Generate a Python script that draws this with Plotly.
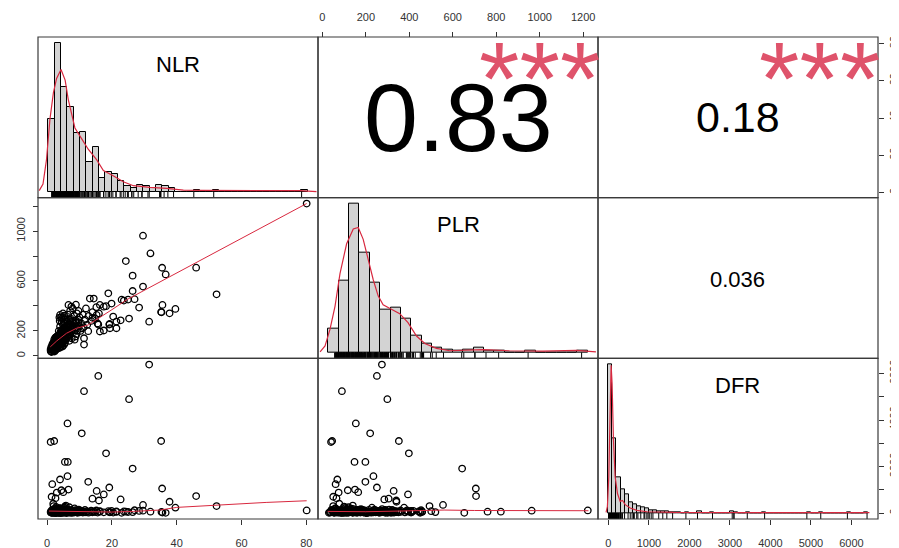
import plotly.graph_objects as go

# ---------------- data ----------------
# outlying patients (NLR, PLR, DFR)
nlr_o = [31.5, 15.8, 11.4, 25.3, 6.3, 10.7, 1.1, 2.2, 35.2, 18.2,
         5.5, 6.4, 26.4, 6.3, 4.0, 12.7, 1.6, 35.5, 19.2, 46.0,
         37.8, 22.7, 52.3, 80.1, 29.6, 31.9, 24.3, 36.6, 29.6, 39.6,
         26.4, 18.9, 28.4, 35.3, 35.6, 15.3, 17.5, 4.4, 6.6, 5.0,
         1.4, 2.6, 3.0, 14.0, 16.0, 27.0]
plr_o = [274, 251, 90, 299, 154, 220, 40, 45, 352, 398,
         148, 198, 643, 235, 69, 198, 61, 706, 251, 707,
         341, 285, 493, 1221, 963, 821, 760, 653, 555, 376,
         520, 501, 387, 349, 408, 328, 394, 117, 150, 165,
         50, 65, 75, 305, 340, 454]
dfr_o = [6386, 5900, 5243, 4900, 3857, 3429, 3057, 3100, 3100, 2571,
         2200, 2200, 1914, 1586, 1443, 1343, 1243, 1057, 1100, 729,
         486, 586, 300, 114, 100, 60, 60, 10, 350, 230,
         40, 80, 90, 50, 20, 950, 800, 980, 1010, 900,
         700, 640, 880, 620, 540, 120]

# dense cluster, low NLR
nlr_a = [1.2, 1.5, 1.8, 2.0, 2.1, 2.3, 2.4, 2.5, 2.6, 2.7,
         2.8, 2.9, 3.0, 1.3, 1.6, 1.9, 2.2, 2.5, 2.8, 3.0,
         1.4, 1.7, 2.0, 2.3, 2.6, 2.9, 3.1, 3.3, 3.4, 3.6,
         1.1, 1.9, 2.4, 2.7, 3.2]
plr_a = [35, 48, 55, 62, 40, 72, 88, 58, 95, 110,
         66, 80, 120, 70, 90, 105, 130, 145, 100, 92,
         30, 42, 50, 35, 45, 52, 60, 75, 98, 115,
         52, 78, 115, 138, 160]
dfr_a = [20, 60, 10, 120, 35, 80, 15, 200, 45, 5,
         150, 90, 30, 100, 25, 70, 160, 40, 260, 60,
         8, 140, 300, 50, 110, 20, 180, 65, 12, 95,
         40, 400, 85, 30, 55]

nlr_b = [3.5, 3.7, 3.8, 3.9, 4.0, 4.1, 4.2, 4.3, 4.4, 4.5,
         4.6, 4.7, 4.8, 4.9, 5.0, 5.1, 5.2, 5.3, 5.4, 5.5,
         5.6, 5.7, 5.8, 5.9, 6.0, 3.6, 4.0, 4.5, 5.0, 5.5,
         3.8, 4.2, 4.8, 5.2, 5.8, 4.4, 4.9, 5.3, 3.9, 4.6]
plr_b = [130, 150, 85, 175, 105, 140, 195, 120, 160, 95,
         210, 178, 135, 250, 155, 115, 190, 228, 145, 265,
         170, 125, 205, 290, 180, 200, 235, 270, 310, 100,
         62, 72, 80, 88, 140, 310, 340, 322, 280, 300]
dfr_b = [140, 25, 70, 45, 210, 10, 90, 35, 130, 60,
         15, 170, 50, 80, 25, 110, 40, 230, 70, 20,
         150, 90, 45, 10, 120, 60, 30, 100, 55, 280,
         200, 15, 65, 35, 320, 75, 40, 130, 95, 20]

nlr_c = [6.2, 6.4, 6.6, 6.8, 7.0, 7.2, 7.4, 7.6, 7.8, 8.0,
         8.2, 8.4, 8.6, 8.8, 9.0, 9.2, 9.4, 9.6, 9.8, 10.0,
         6.5, 7.1, 7.9, 8.5, 9.1, 6.9, 7.5, 8.9, 9.7, 6.1]
plr_c = [160, 230, 195, 260, 175, 300, 215, 140, 245, 280,
         190, 320, 225, 155, 265, 340, 205, 290, 240, 310,
         330, 360, 380, 130, 175, 120, 395, 410, 360, 275]
dfr_c = [60, 25, 110, 40, 85, 15, 140, 55, 30, 95,
         20, 70, 45, 120, 35, 80, 10, 60, 150, 25,
         90, 50, 30, 200, 100, 250, 65, 40, 110, 170]

nlr_d = [10.3, 10.6, 11.0, 11.3, 11.7, 12.0, 12.4, 12.8, 13.2, 13.6,
         14.0, 14.4, 14.8, 15.2, 15.6, 16.3, 16.3, 17.5, 19.3, 19.9,
         20.4, 21.4, 21.4, 19.4, 23.0, 25.0, 11.4, 4.8, 4.0, 3.8,
         6.6, 23.7]
plr_d = [200, 260, 330, 230, 290, 380, 250, 320, 459, 280,
         350, 459, 300, 390, 260, 408, 195, 203, 256, 419,
         315, 275, 221, 221, 450, 451, 141, 75, 328, 307,
         408, 443]
dfr_d = [40, 90, 20, 60, 130, 35, 75, 15, 50, 100,
         30, 70, 45, 110, 20, 80, 60, 30, 40, 90,
         20, 50, 70, 30, 10, 45, 35, 30, 60, 150,
         90, 70]

nlr_e = [1.5, 1.7, 1.9, 2.1, 2.3, 2.5, 2.7, 2.9, 3.1, 3.3,
         3.5, 3.7, 3.9, 4.1, 4.3, 4.5, 4.7, 4.9, 5.1, 5.3,
         5.5, 5.7, 5.9, 6.1, 6.3, 6.5, 6.7, 6.9, 7.1, 7.3,
         2.0, 2.4, 2.8, 3.2, 3.6, 4.0, 4.4, 4.8, 5.2, 5.6,
         6.0, 6.4, 6.8, 7.2, 7.6, 8.0, 8.4, 8.8, 9.2, 9.6]
plr_e = [65, 80, 95, 75, 110, 85, 125, 140, 100, 135,
         160, 110, 130, 175, 150, 190, 165, 205, 180, 140,
         215, 195, 240, 200, 170, 250, 225, 190, 270, 235,
         100, 60, 150, 85, 95, 120, 145, 115, 260, 230,
         210, 185, 290, 255, 200, 230, 260, 285, 230, 270]
dfr_e = [30, 80, 15, 50, 120, 5, 65, 25, 90, 40,
         10, 140, 55, 20, 75, 35, 100, 15, 60, 180,
         30, 45, 85, 10, 120, 50, 20, 70, 35, 95,
         160, 25, 45, 110, 70, 15, 50, 90, 30, 60,
         20, 140, 40, 75, 10, 55, 30, 100, 45, 65]

nlr = nlr_o + nlr_a + nlr_b + nlr_c + nlr_d + nlr_e
plr = plr_o + plr_a + plr_b + plr_c + plr_d + plr_e
dfr = dfr_o + dfr_a + dfr_b + dfr_c + dfr_d + dfr_e

# histogram counts (bins)
nlr_bin_start, nlr_bin_w = 0, 2
nlr_hist = [41, 84, 59, 48, 33, 34, 17, 25, 8, 11,
            10, 6, 3, 2, 4, 3, 2, 4, 3, 2,
            0, 0, 0, 1, 0, 0, 1, 0, 0, 0,
            0, 0, 0, 0, 0, 0, 0, 0, 0, 0,
            1]
plr_bin_start, plr_bin_w = 0, 50
plr_hist = [16, 48, 100, 67, 47, 29, 30, 23, 11, 6,
            3, 2, 1, 2, 3, 1, 1, 0, 0, 1,
            0, 0, 0, 0, 1]
dfr_bin_start, dfr_bin_w = 0, 100
dfr_hist = [160, 80, 38, 26, 20, 12, 9, 7, 6, 5,
            3, 3, 2, 2, 2, 1, 1, 1, 0, 1,
            0, 0, 2, 0, 0, 1, 0, 0, 0, 0,
            2, 1, 0, 0, 1, 0, 0, 0, 1, 0,
            0, 0, 0, 0, 0, 0, 0, 0, 0, 1,
            0, 0, 1, 0, 0, 0, 0, 0, 0, 1,
            0, 0, 0, 1]

# density curves (in count units)
nlr_dens_x = [-2.9, -1.7, -0.6, 0.5, 1.6, 2.6, 4.0, 5.3, 6.3, 7.4, 8.4, 10.5, 12.6,
              15.3, 17.4, 20.5, 23.7, 26.9, 32.1, 37.4, 42.7, 48.0, 53.2, 63.8, 79.5, 84.8]
nlr_dens_y = [0.6, 4.3, 18, 41, 56, 64, 69, 63, 52, 43, 36, 30, 24,
              18, 12, 9, 5.6, 3.4, 2.4, 1.9, 0.9, 0.75, 0.75, 0.4, 0.6, 0]
plr_dens_x = [-40, -16, 8, 32, 56, 88, 120, 144, 168, 192, 216, 240, 264,
              304, 344, 384, 425, 465, 521, 585, 681, 745, 873, 1034, 1194, 1290]
plr_dens_y = [0.4, 4.4, 15.6, 31, 53, 73, 83, 84, 76, 62, 49, 38, 32,
              29, 26, 20, 11, 6, 2.7, 1.1, 1.8, 1.8, 1.1, 0.9, 1.3, 0.4]
dfr_dens_x = [-57, -24, 10, 43, 68, 92, 125, 167, 225, 291, 349, 415, 539,
              704, 952, 1613, 2852, 4503, 6444]
dfr_dens_y = [0.7, 7, 39, 121, 159, 139, 79, 39, 21, 12.5, 13.6, 9, 5.4,
              2.9, 1.4, 0.7, 0.4, 0.4, 0.4]

# smoothers in scatter panels
sm_np_x = [1.0, 3.0, 6.0, 9.0, 12.7, 16.0, 20.0, 24.8, 35.0, 46.0, 60.0, 70.0, 80.1]
sm_np_y = [72, 120, 181, 220, 248, 300, 370, 453, 595, 747, 942, 1081, 1221]
sm_nd_x = [0.6, 6.1, 12.8, 19.9, 26.6, 34.8, 40.0, 47.1, 57.4, 67.6, 80.1]
sm_nd_y = [86, 71, 57, 43, 71, 129, 243, 300, 386, 457, 529]
sm_pd_x = [25, 200, 350, 460, 560, 700, 850, 1224]
sm_pd_y = [71, 57, 85, 110, 129, 110, 100, 100]

# correlation texts
cor_np, cor_nd, cor_pd = "0.83", "0.18", "0.036"
sig_np, sig_nd = "***", "***"
var_names = ["NLR", "PLR", "DFR"]

# tick values / labels
nlr_ticks = [0, 20, 40, 60, 80]
plr_ticks = [0, 200, 400, 600, 800, 1000, 1200]
plr_left_labels = ["0", "200", "", "600", "", "1000", ""]
dfr_ticks = [0, 1000, 2000, 3000, 4000, 5000, 6000]
dfr_right_labels = ["0", "", "2000", "", "4000", "", "6000"]

# ---------------- figure ----------------
FONT = "Liberation Sans, Arial, sans-serif"
RED = "#d8283f"
cols = [[0, 1/3], [1/3, 2/3], [2/3, 1]]
rows = [[2/3, 1], [1/3, 2/3], [0, 1/3]]

fig = go.Figure()

def scatter(x, y, xa, ya):
    fig.add_trace(go.Scatter(x=x, y=y, xaxis=xa, yaxis=ya, mode="markers",
                             marker=dict(symbol="circle-open", size=6.5, color="black",
                                         line=dict(width=1.3, color="black")),
                             hoverinfo="skip", showlegend=False))

def smooth(x, y, xa, ya):
    fig.add_trace(go.Scatter(x=x, y=y, xaxis=xa, yaxis=ya, mode="lines",
                             line=dict(color=RED, width=1), hoverinfo="skip", showlegend=False))

scatter(nlr, plr, "x", "y2"); smooth(sm_np_x, sm_np_y, "x", "y2")
scatter(nlr, dfr, "x", "y3"); smooth(sm_nd_x, sm_nd_y, "x", "y3")
scatter(plr, dfr, "x2", "y3"); smooth(sm_pd_x, sm_pd_y, "x2", "y3")

def hist(counts, start, w, vals, dx, dy, xa, ya, hi):
    centers = [start + w * (i + 0.5) for i in range(len(counts))]
    fig.add_trace(go.Bar(x=centers, y=counts, width=w, xaxis=xa, yaxis=ya,
                         marker=dict(color="#D3D3D3", line=dict(color="black", width=1)),
                         hoverinfo="skip", showlegend=False))
    fig.add_trace(go.Scatter(x=dx, y=dy, xaxis=xa, yaxis=ya, mode="lines",
                             line=dict(color=RED, width=1.2), hoverinfo="skip", showlegend=False))
    lo = -0.04 * hi
    rug_y = lo + 0.015 * (hi * 1.08)
    fig.add_trace(go.Scatter(x=vals, y=[rug_y] * len(vals), xaxis=xa, yaxis=ya, mode="markers",
                             marker=dict(symbol="line-ns", size=5, line=dict(width=1, color="black")),
                             hoverinfo="skip", showlegend=False))

hist(nlr_hist, nlr_bin_start, nlr_bin_w, nlr, nlr_dens_x, nlr_dens_y, "x4", "y4", max(nlr_hist))
hist(plr_hist, plr_bin_start, plr_bin_w, plr, plr_dens_x, plr_dens_y, "x5", "y5", max(plr_hist))
hist(dfr_hist, dfr_bin_start, dfr_bin_w, dfr, dfr_dens_x, dfr_dens_y, "x3", "y6", max(dfr_hist))

# invisible trace so the right-hand NLR axis of row 1 is drawn
fig.add_trace(go.Scatter(x=[0], y=[0], xaxis="x4", yaxis="y", mode="markers",
                         marker=dict(opacity=0), hoverinfo="skip", showlegend=False))

def hrange(start, w, n):
    a, b = start, start + w * n
    r = b - a
    return [a - 0.04 * r, b + 0.04 * r]

tick_common = dict(showgrid=False, zeroline=False, showline=False, ticks="outside",
                   ticklen=5, tickcolor="#333", tickwidth=1, automargin=False,
                   tickfont=dict(family=FONT, size=11, color="#333"))
hidden = dict(visible=False, showgrid=False, zeroline=False)

nlr_range = [-2.8, 83.6]
plr_range = [-20, 1268]
dfr_range = hrange(dfr_bin_start, dfr_bin_w, len(dfr_hist))

# the page body adds an 8 px offset, so the figure is 8 px smaller than the window
fig.update_layout(
    width=891, height=540,
    margin=dict(l=30, r=21, t=29, b=29, autoexpand=False),
    paper_bgcolor="white", plot_bgcolor="rgba(0,0,0,0)",
    showlegend=False, bargap=0,
    xaxis=dict(domain=cols[0], range=nlr_range, anchor="free", position=0, side="bottom",
               tickmode="array", tickvals=nlr_ticks, ticklabelstandoff=9, **tick_common),
    xaxis2=dict(domain=cols[1], range=plr_range, anchor="free", position=1, side="top",
                tickmode="array", tickvals=plr_ticks, ticklabelstandoff=7, **tick_common),
    xaxis3=dict(domain=cols[2], range=dfr_range, anchor="free", position=0, side="bottom",
                tickmode="array", tickvals=dfr_ticks, ticklabelstandoff=9, **tick_common),
    xaxis4=dict(domain=cols[0], range=hrange(nlr_bin_start, nlr_bin_w, len(nlr_hist)), anchor="y4", **hidden),
    xaxis5=dict(domain=cols[1], range=hrange(plr_bin_start, plr_bin_w, len(plr_hist)), anchor="y5", **hidden),
    yaxis=dict(domain=rows[0], range=nlr_range, anchor="free", position=1, side="right",
               tickmode="array", tickvals=nlr_ticks, tickangle=-90, ticklabelstandoff=1, **tick_common),
    yaxis2=dict(domain=rows[1], range=plr_range, anchor="free", position=0, side="left",
                tickmode="array", tickvals=plr_ticks, ticktext=plr_left_labels, tickangle=-90,
                ticklabelstandoff=4, **tick_common),
    yaxis3=dict(domain=rows[2], range=dfr_range, anchor="free", position=1, side="right",
                tickmode="array", tickvals=dfr_ticks, ticktext=dfr_right_labels, tickangle=-90,
                ticklabelstandoff=1, **tick_common),
    yaxis4=dict(domain=rows[0], range=[-0.04 * max(nlr_hist), 1.04 * max(nlr_hist)], anchor="x4", **hidden),
    yaxis5=dict(domain=rows[1], range=[-0.04 * max(plr_hist), 1.04 * max(plr_hist)], anchor="x5", **hidden),
    yaxis6=dict(domain=rows[2], range=[-0.04 * max(dfr_hist), 1.04 * max(dfr_hist)], anchor="x3", **hidden),
)

# panel borders
for r in rows:
    for c in cols:
        fig.add_shape(type="rect", xref="paper", yref="paper", x0=c[0], x1=c[1], y0=r[0], y1=r[1],
                      line=dict(color="#3a3a3a", width=1.2), fillcolor="rgba(0,0,0,0)", layer="above")

def ann(text, col, row, fx, fy, size, color="black", yshift=0):
    c, r = cols[col], rows[row]
    fig.add_annotation(x=c[0] + fx * (c[1] - c[0]), y=r[0] + fy * (r[1] - r[0]),
                       xref="paper", yref="paper", text=text, showarrow=False,
                       xanchor="center", yanchor="middle", yshift=yshift,
                       font=dict(family=FONT, size=size, color=color))

for i, name in enumerate(var_names):
    ann(name, i, i, 0.5, 0.824, 22, yshift=1)

ann(cor_np, 1, 0, 0.5, 0.5, 97, yshift=0)
ann(cor_nd, 2, 0, 0.5, 0.5, 43, yshift=0)
ann(cor_pd, 2, 1, 0.5, 0.5, 22, yshift=-1)
ann(sig_np, 1, 0, 0.79, 0.8, 104, color="#DF536B", yshift=-10)
ann(sig_nd, 2, 0, 0.79, 0.8, 104, color="#DF536B", yshift=-10)

fig.write_html("out.html")
